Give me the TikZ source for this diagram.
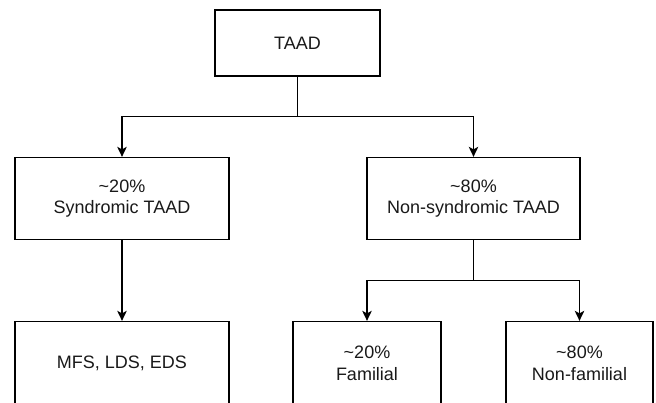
\documentclass[tikz,border=0pt]{standalone}
\usepackage{fontspec}
\setmainfont{Liberation Sans}
\usetikzlibrary{arrows.meta}
\begin{document}
\begin{tikzpicture}[x=1pt,y=-1pt,
  box/.style={draw=black,line width=1.3pt,rectangle,inner sep=0pt,align=center,
    font=\fontsize{18}{21.6}\selectfont,text=black!90},
  conn/.style={draw=black,line width=1.3pt},
  arr/.style={conn,-{Stealth[length=10pt,width=9.5pt,inset=2.5pt]}}]
\useasboundingbox (0,0) rectangle (656,403);
\clip (0,0) rectangle (656,403);
\node[box,minimum width=165pt,minimum height=66pt] (taad) at (297.5,43) {TAAD};
\node[box,minimum width=214pt,minimum height=82pt] (syn) at (122,198.5) {\textasciitilde 20\%\\Syndromic TAAD};
\node[box,minimum width=213pt,minimum height=82pt] (non) at (473.5,198.5) {\textasciitilde 80\%\\Non-syndromic TAAD};
\node[box,minimum width=214pt,minimum height=84pt] (mfs) at (122,363.5) {MFS, LDS, EDS};
\node[box,minimum width=148pt,minimum height=84pt] (fam) at (367,363.5) {\textasciitilde 20\%\\Familial};
\node[box,minimum width=147pt,minimum height=84pt] (nfam) at (579.5,363.5) {\textasciitilde 80\%\\Non-familial};
\coordinate (j1) at (297.5,116.7);
\coordinate (j2) at (473.5,280.7);
\draw[conn] (taad.south) -- (j1);
\draw[arr] (j1) -| (syn.north);
\draw[arr] (j1) -| (non.north);
\draw[arr] (syn.south) -- (mfs.north);
\draw[conn] (non.south) -- (j2);
\draw[arr] (j2) -| (fam.north);
\draw[arr] (j2) -| (nfam.north);
\end{tikzpicture}
\end{document}
